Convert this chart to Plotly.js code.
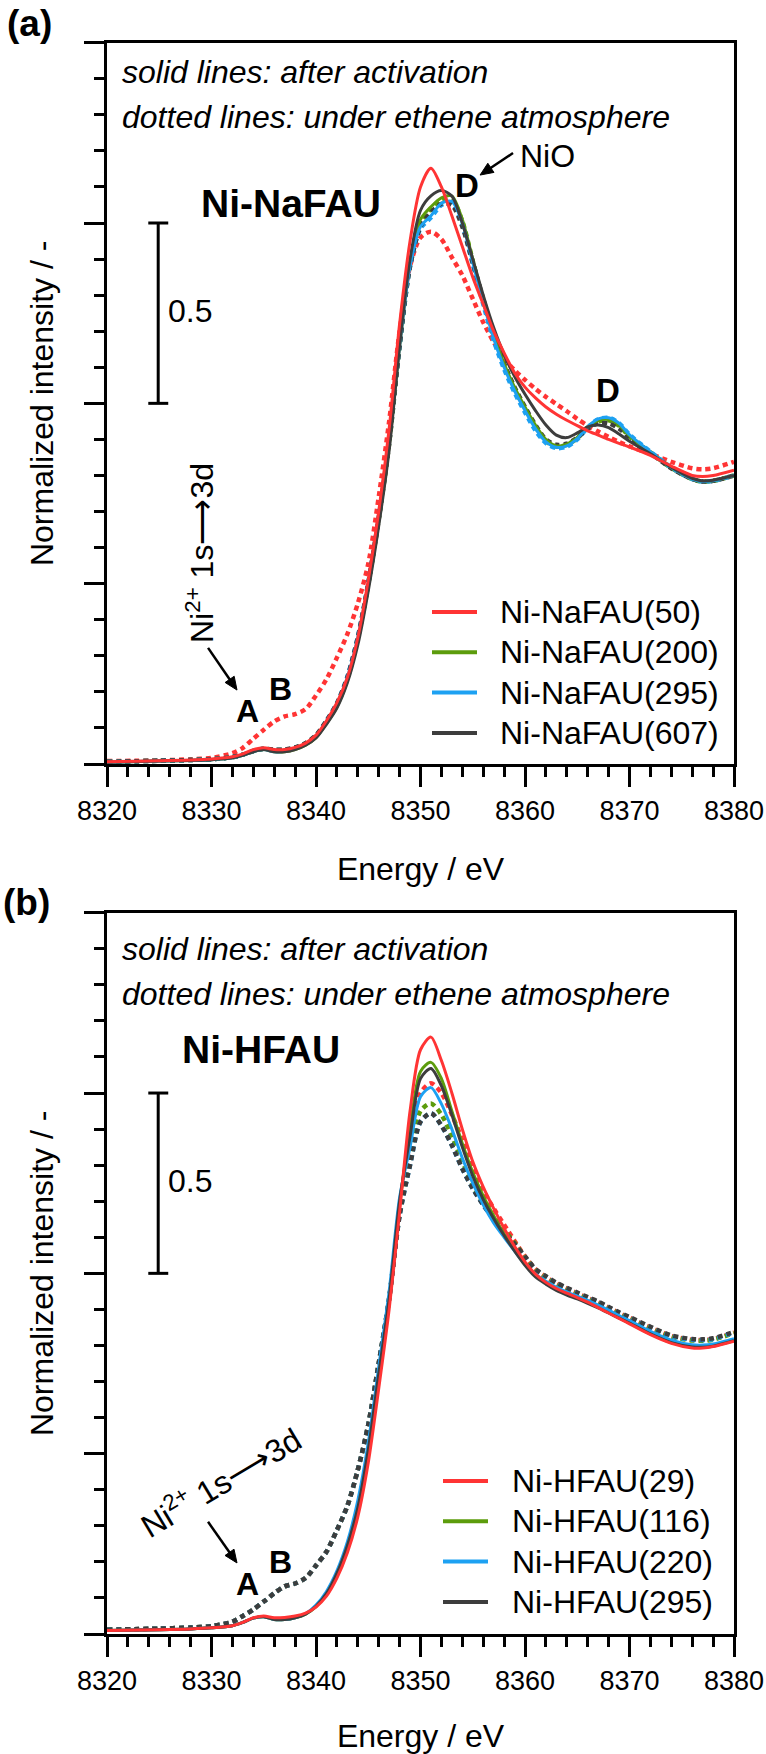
<!DOCTYPE html>
<html>
<head>
<meta charset="utf-8">
<script src="https://cdn.plot.ly/plotly-3.0.1.min.js"></script>
<style>
  html, body { margin: 0; padding: 0; background: #ffffff; }
  #chart { width: 766px; height: 1754px; }
</style>
</head>
<body>
<div id="chart"></div>
<script>
// Ni K-edge XANES spectra, normalized intensity vs photon energy.
const energy = [8320, 8325, 8328, 8330, 8332, 8333, 8334, 8335, 8336, 8337, 8338, 8339, 8340,
  8341, 8342, 8343, 8344, 8345, 8346, 8347, 8348, 8349, 8350, 8351, 8352, 8353, 8354, 8355,
  8356, 8357, 8358, 8359, 8360, 8361, 8362, 8363, 8364, 8365, 8366, 8367, 8368, 8369, 8370,
  8372, 8374, 8376, 8377, 8378, 8380];

// (a) Ni-NaFAU samples
const naNames = ['Ni-NaFAU(50)', 'Ni-NaFAU(200)', 'Ni-NaFAU(295)', 'Ni-NaFAU(607)'];
const na50Act = [0.006, 0.009, 0.011, 0.014, 0.020, 0.028, 0.040, 0.045, 0.040, 0.040, 0.046, 0.058, 0.080,
  0.120, 0.170, 0.240, 0.350, 0.510, 0.700, 0.930, 1.220, 1.450, 1.600, 1.652, 1.600, 1.520, 1.435, 1.350,
  1.275, 1.200, 1.140, 1.085, 1.045, 1.015, 0.990, 0.970, 0.953, 0.938, 0.924, 0.912, 0.900, 0.889, 0.879,
  0.856, 0.826, 0.800, 0.797, 0.800, 0.815];
const na50Eth = [0.008, 0.010, 0.013, 0.017, 0.030, 0.045, 0.070, 0.095, 0.118, 0.132, 0.138, 0.152, 0.190,
  0.235, 0.295, 0.360, 0.445, 0.555, 0.740, 0.950, 1.200, 1.380, 1.460, 1.476, 1.455, 1.405, 1.355, 1.290,
  1.225, 1.170, 1.125, 1.092, 1.065, 1.040, 1.018, 0.998, 0.978, 0.957, 0.938, 0.922, 0.907, 0.893, 0.881,
  0.860, 0.838, 0.820, 0.817, 0.820, 0.838];
const na200Act = [0.005, 0.008, 0.010, 0.012, 0.017, 0.024, 0.034, 0.040, 0.034, 0.034, 0.040, 0.052, 0.073,
  0.112, 0.158, 0.230, 0.340, 0.490, 0.670, 0.880, 1.160, 1.390, 1.510, 1.545, 1.570, 1.575, 1.510, 1.400,
  1.290, 1.190, 1.110, 1.045, 0.990, 0.940, 0.900, 0.882, 0.887, 0.905, 0.935, 0.952, 0.955, 0.940, 0.910,
  0.865, 0.822, 0.790, 0.783, 0.785, 0.800];
const na200Eth = [0.006, 0.009, 0.011, 0.013, 0.019, 0.026, 0.036, 0.042, 0.039, 0.039, 0.045, 0.057, 0.078,
  0.118, 0.165, 0.238, 0.348, 0.498, 0.678, 0.888, 1.160, 1.385, 1.500, 1.540, 1.562, 1.565, 1.505, 1.395,
  1.285, 1.185, 1.105, 1.040, 0.985, 0.935, 0.895, 0.880, 0.885, 0.903, 0.933, 0.950, 0.953, 0.938, 0.908,
  0.864, 0.821, 0.790, 0.783, 0.785, 0.800];
const na295Act = [0.005, 0.008, 0.010, 0.012, 0.017, 0.024, 0.034, 0.040, 0.034, 0.035, 0.042, 0.055, 0.076,
  0.118, 0.165, 0.240, 0.350, 0.500, 0.680, 0.890, 1.160, 1.380, 1.490, 1.520, 1.555, 1.560, 1.500, 1.390,
  1.280, 1.180, 1.100, 1.035, 0.980, 0.930, 0.893, 0.878, 0.882, 0.902, 0.935, 0.957, 0.960, 0.945, 0.913,
  0.866, 0.822, 0.790, 0.783, 0.785, 0.800];
const na295Eth = [0.006, 0.009, 0.011, 0.013, 0.019, 0.026, 0.036, 0.042, 0.039, 0.039, 0.045, 0.057, 0.078,
  0.120, 0.168, 0.242, 0.352, 0.502, 0.682, 0.892, 1.160, 1.380, 1.485, 1.515, 1.550, 1.555, 1.495, 1.385,
  1.275, 1.175, 1.095, 1.030, 0.975, 0.925, 0.890, 0.876, 0.880, 0.900, 0.933, 0.956, 0.960, 0.945, 0.913,
  0.866, 0.822, 0.790, 0.783, 0.785, 0.800];
const na607Act = [0.005, 0.008, 0.010, 0.012, 0.017, 0.024, 0.034, 0.040, 0.034, 0.034, 0.040, 0.052, 0.072,
  0.110, 0.155, 0.225, 0.330, 0.480, 0.660, 0.870, 1.160, 1.400, 1.535, 1.575, 1.590, 1.575, 1.500, 1.400,
  1.300, 1.210, 1.135, 1.075, 1.025, 0.980, 0.940, 0.912, 0.905, 0.918, 0.935, 0.940, 0.933, 0.915, 0.895,
  0.860, 0.823, 0.792, 0.785, 0.787, 0.800];
const na607Eth = [0.006, 0.009, 0.011, 0.013, 0.019, 0.026, 0.036, 0.042, 0.040, 0.040, 0.046, 0.058, 0.080,
  0.120, 0.168, 0.240, 0.350, 0.500, 0.680, 0.890, 1.160, 1.380, 1.490, 1.530, 1.553, 1.550, 1.490, 1.390,
  1.290, 1.190, 1.110, 1.045, 0.990, 0.940, 0.900, 0.885, 0.888, 0.905, 0.930, 0.945, 0.945, 0.930, 0.905,
  0.862, 0.820, 0.790, 0.783, 0.785, 0.800];

// (b) Ni-HFAU samples
const hNames = ['Ni-HFAU(29)', 'Ni-HFAU(116)', 'Ni-HFAU(220)', 'Ni-HFAU(295)'];
const h29Act = [0.010, 0.012, 0.014, 0.017, 0.023, 0.032, 0.045, 0.050, 0.045, 0.046, 0.050, 0.058, 0.075,
  0.105, 0.155, 0.225, 0.325, 0.475, 0.680, 0.900, 1.170, 1.450, 1.620, 1.655, 1.590, 1.500, 1.400, 1.310,
  1.240, 1.180, 1.125, 1.075, 1.032, 0.998, 0.975, 0.958, 0.945, 0.933, 0.920, 0.905, 0.890, 0.875, 0.860,
  0.830, 0.806, 0.793, 0.793, 0.797, 0.812];
const h29Eth = [0.012, 0.015, 0.018, 0.022, 0.034, 0.050, 0.068, 0.090, 0.113, 0.132, 0.140, 0.155, 0.190,
  0.228, 0.288, 0.355, 0.455, 0.580, 0.750, 0.930, 1.170, 1.360, 1.500, 1.527, 1.500, 1.440, 1.370, 1.290,
  1.230, 1.180, 1.135, 1.090, 1.047, 1.012, 0.990, 0.972, 0.958, 0.945, 0.932, 0.920, 0.905, 0.890, 0.877,
  0.850, 0.826, 0.816, 0.815, 0.818, 0.836];
const h116Act = [0.010, 0.012, 0.014, 0.017, 0.023, 0.032, 0.044, 0.048, 0.040, 0.040, 0.045, 0.055, 0.076,
  0.110, 0.165, 0.240, 0.345, 0.500, 0.710, 0.920, 1.190, 1.400, 1.560, 1.585, 1.540, 1.450, 1.360, 1.280,
  1.215, 1.160, 1.110, 1.067, 1.028, 0.996, 0.975, 0.958, 0.945, 0.934, 0.922, 0.909, 0.894, 0.879, 0.865,
  0.835, 0.811, 0.798, 0.797, 0.800, 0.815];
const h116Eth = [0.012, 0.015, 0.018, 0.022, 0.034, 0.050, 0.068, 0.090, 0.113, 0.132, 0.140, 0.155, 0.190,
  0.228, 0.288, 0.355, 0.455, 0.580, 0.750, 0.930, 1.165, 1.320, 1.450, 1.471, 1.440, 1.380, 1.310, 1.245,
  1.195, 1.155, 1.120, 1.085, 1.045, 1.010, 0.988, 0.970, 0.956, 0.943, 0.930, 0.918, 0.903, 0.888, 0.875,
  0.848, 0.824, 0.814, 0.813, 0.816, 0.834];
const h220Act = [0.010, 0.012, 0.014, 0.017, 0.023, 0.032, 0.044, 0.048, 0.040, 0.040, 0.045, 0.056, 0.080,
  0.118, 0.175, 0.255, 0.370, 0.530, 0.740, 0.950, 1.210, 1.350, 1.490, 1.515, 1.470, 1.400, 1.320, 1.250,
  1.190, 1.140, 1.100, 1.062, 1.026, 0.998, 0.978, 0.961, 0.948, 0.937, 0.925, 0.912, 0.898, 0.883, 0.869,
  0.839, 0.815, 0.802, 0.801, 0.804, 0.819];
const h220Eth = [0.012, 0.015, 0.018, 0.022, 0.034, 0.050, 0.068, 0.090, 0.113, 0.132, 0.140, 0.155, 0.190,
  0.228, 0.288, 0.355, 0.455, 0.580, 0.750, 0.930, 1.160, 1.300, 1.420, 1.444, 1.410, 1.355, 1.290, 1.235,
  1.190, 1.150, 1.115, 1.080, 1.045, 1.010, 0.990, 0.972, 0.958, 0.945, 0.932, 0.920, 0.905, 0.890, 0.877,
  0.850, 0.826, 0.816, 0.815, 0.818, 0.836];
const h295Act = [0.010, 0.012, 0.014, 0.017, 0.023, 0.032, 0.044, 0.048, 0.040, 0.040, 0.045, 0.055, 0.077,
  0.112, 0.168, 0.245, 0.350, 0.510, 0.720, 0.930, 1.200, 1.380, 1.540, 1.568, 1.520, 1.440, 1.350, 1.270,
  1.205, 1.152, 1.105, 1.062, 1.022, 0.990, 0.970, 0.953, 0.940, 0.929, 0.917, 0.904, 0.890, 0.876, 0.862,
  0.832, 0.808, 0.796, 0.795, 0.798, 0.813];
const h295Eth = [0.012, 0.015, 0.018, 0.022, 0.034, 0.050, 0.068, 0.090, 0.113, 0.132, 0.140, 0.155, 0.190,
  0.228, 0.288, 0.355, 0.455, 0.580, 0.750, 0.930, 1.160, 1.300, 1.420, 1.444, 1.410, 1.355, 1.290, 1.235,
  1.190, 1.150, 1.115, 1.082, 1.047, 1.012, 0.992, 0.974, 0.960, 0.947, 0.934, 0.922, 0.907, 0.892, 0.879,
  0.852, 0.828, 0.818, 0.817, 0.820, 0.838];

const seriesColors = ['#ff3434', '#5c9c0c', '#1da1f2', '#3d3d3d'];

const FONT = 'Liberation Sans, Arial, Helvetica, sans-serif';
const SOLID_W = 3;
const DOT_W = 4.5;
const DOT_DASH = '5px,4px';

function spectrum(y, i, names, xa, ya, eth) {
  return {
    type: 'scatter', mode: 'lines', x: energy, y: y,
    xaxis: xa, yaxis: ya,
    name: names[i] + (eth ? ' ethene' : ''),
    showlegend: false,
    hoverinfo: 'skip',
    line: {
      color: seriesColors[i],
      width: eth ? DOT_W : SOLID_W,
      dash: eth ? DOT_DASH : 'solid',
      shape: 'spline', smoothing: 0.8
    }
  };
}

const naEth = [na50Eth, na200Eth, na295Eth, na607Eth];
const naAct = [na50Act, na200Act, na295Act, na607Act];
const hEth = [h29Eth, h116Eth, h220Eth, h295Eth];
const hAct = [h29Act, h116Act, h220Act, h295Act];

const traces = [];
[0, 1, 2, 3].forEach(i => traces.push(spectrum(naEth[i], i, naNames, 'x', 'y', true)));
[1, 2, 3, 0].forEach(i => traces.push(spectrum(naAct[i], i, naNames, 'x', 'y', false)));
[0, 1, 2, 3].forEach(i => traces.push(spectrum(hEth[i], i, hNames, 'x2', 'y2', true)));
[1, 2, 3, 0].forEach(i => traces.push(spectrum(hAct[i], i, hNames, 'x2', 'y2', false)));

const H = 1754, W = 766;
const px = v => v / W;          // horizontal pixel -> paper
const py = v => 1 - v / H;      // vertical pixel -> paper

// plot-area geometry in pixels
const PLOT_L = 107, PLOT_R = 734;
const A_TOP = 42.7, A_BOT = 764, B_TOP = 912.7, B_BOT = 1634;
const X_RANGE = [8320, 8380], Y_RANGE = [0, 2];
const KX = (PLOT_R - PLOT_L) / (X_RANGE[1] - X_RANGE[0]);   // px per eV
const KY = (A_BOT - A_TOP) / (Y_RANGE[1] - Y_RANGE[0]);     // px per intensity unit

function xAxis(anchor) {
  return {
    domain: [px(PLOT_L), px(PLOT_R)], anchor: anchor, range: X_RANGE, tick0: 8320, dtick: 10,
    showline: true, linewidth: 3, linecolor: '#000', mirror: true,
    ticks: 'outside', ticklen: 20, tickwidth: 3, tickcolor: '#000',
    ticklabelstandoff: 1,
    minor: { dtick: 2, ticks: 'outside', ticklen: 10, tickwidth: 3, tickcolor: '#000', showgrid: false },
    showgrid: false, zeroline: false,
    tickfont: { family: FONT, size: 27, color: '#000' },
    title: { text: 'Energy / eV', font: { family: FONT, size: 32, color: '#000' }, standoff: 33 }
  };
}
function yAxis(domain, anchor) {
  return {
    domain: domain, anchor: anchor, range: Y_RANGE, tick0: 0, dtick: 0.5,
    showline: true, linewidth: 3, linecolor: '#000', mirror: true,
    ticks: 'outside', ticklen: 20, tickwidth: 3, tickcolor: '#000',
    showticklabels: false,
    minor: { dtick: 0.1, ticks: 'outside', ticklen: 10, tickwidth: 3, tickcolor: '#000', showgrid: false },
    showgrid: false, zeroline: false,
    title: { text: 'Normalized intensity / -', font: { family: FONT, size: 32, color: '#000' }, standoff: 21 }
  };
}

function txt(text, x, y, xr, yr, size, extra) {
  return Object.assign({
    text: text, x: x, y: y, xref: xr, yref: yr, showarrow: false,
    xanchor: 'center', yanchor: 'middle',
    font: { family: FONT, size: size, color: '#000' }
  }, extra || {});
}

// arrow = line + filled head, drawn in data coordinates
function arrowShapes(x0, y0, x1, y1, xr, yr) {
  const dx = (x1 - x0) * KX, dy = (y1 - y0) * KY;
  const len = Math.hypot(dx, dy), ux = dx / len, uy = dy / len;
  const L = 13, Wd = 5.5;
  const bx = -ux * L, by = -uy * L;
  const p1 = [bx - uy * Wd, by + ux * Wd], p2 = [bx + uy * Wd, by - ux * Wd];
  const toX = v => x1 + v / KX, toY = v => y1 + v / KY;
  return [
    { type: 'line', xref: xr, yref: yr, x0: x0, y0: y0, x1: toX(bx * 0.8), y1: toY(by * 0.8),
      line: { color: '#000', width: 2.5 } },
    { type: 'path', xref: xr, yref: yr, fillcolor: '#000', line: { color: '#000', width: 1 },
      path: `M${x1},${y1} L${toX(p1[0])},${toY(p1[1])} L${toX(p2[0])},${toY(p2[1])} Z` }
  ];
}

// 0.5 scale bar
function scaleBar(xr, yr) {
  const s = { type: 'line', xref: xr, yref: yr, line: { color: '#000', width: 3 } };
  return [
    Object.assign({ x0: 8324.9, x1: 8324.9, y0: 1.0, y1: 1.5 }, s),
    Object.assign({ x0: 8323.95, x1: 8325.86, y0: 1.0, y1: 1.0 }, s),
    Object.assign({ x0: 8323.95, x1: 8325.86, y0: 1.5, y1: 1.5 }, s)
  ];
}

// key: sample line + label per sample, rows 40 px apart
function legendItems(names, lineX0, textX, firstRowPx) {
  const shapes = [], notes = [];
  names.forEach((n, i) => {
    const yy = py(firstRowPx + i * 40.3);
    shapes.push({ type: 'line', xref: 'paper', yref: 'paper', x0: px(lineX0), x1: px(lineX0 + 45),
      y0: yy, y1: yy, line: { color: seriesColors[i], width: 4 } });
    notes.push(txt(n, px(textX), yy, 'paper', 'paper', 32, { xanchor: 'left' }));
  });
  return { shapes, notes };
}

const legA = legendItems(naNames, 432, 498, 612);
const legB = legendItems(hNames, 443, 510, 1481);

const ROT_TEXT = 'Ni<sup>2+</sup> 1s⟶3d';

const annotations = [
  txt('<b>(a)</b>', px(29), py(1), 'paper', 'paper', 37, { yanchor: 'top' }),
  txt('<b>(b)</b>', px(26), py(902), 'paper', 'paper', 37),
  // panel (a)
  txt('<i>solid lines: after activation</i>', px(120), py(72), 'paper', 'paper', 32, { xanchor: 'left' }),
  txt('<i>dotted lines: under ethene atmosphere</i>', px(120), py(117), 'paper', 'paper', 32, { xanchor: 'left' }),
  txt('0.5', 8327.94, 1.256, 'x', 'y', 32),
  txt(ROT_TEXT, 8328.9, 0.585, 'x', 'y', 32, { textangle: -90 }),
  txt('<b>Ni-NaFAU</b>', 8337.6, 1.554, 'x', 'y', 39),
  txt('<b>A</b>', 8333.4, 0.147, 'x', 'y', 32),
  txt('<b>B</b>', 8336.65, 0.208, 'x', 'y', 32),
  txt('<b>D</b>', 8354.45, 1.604, 'x', 'y', 33),
  txt('<b>D</b>', 8367.9, 1.035, 'x', 'y', 33),
  txt('NiO', 8362.2, 1.686, 'x', 'y', 32),
  // panel (b)
  txt('<i>solid lines: after activation</i>', px(120), py(949), 'paper', 'paper', 32, { xanchor: 'left' }),
  txt('<i>dotted lines: under ethene atmosphere</i>', px(120), py(994), 'paper', 'paper', 32, { xanchor: 'left' }),
  txt('0.5', 8327.94, 1.256, 'x2', 'y2', 32),
  txt(ROT_TEXT, 8330.8, 0.424, 'x2', 'y2', 32, { textangle: -31 }),
  txt('<b>Ni-HFAU</b>', 8334.7, 1.621, 'x2', 'y2', 39),
  txt('<b>A</b>', 8333.4, 0.139, 'x2', 'y2', 32),
  txt('<b>B</b>', 8336.65, 0.200, 'x2', 'y2', 32),
  ...legA.notes, ...legB.notes
];

const shapes = [
  ...scaleBar('x', 'y'), ...scaleBar('x2', 'y2'),
  ...arrowShapes(8358.85, 1.694, 8355.7, 1.633, 'x', 'y'),
  ...arrowShapes(8329.67, 0.322, 8332.44, 0.205, 'x', 'y'),
  ...arrowShapes(8329.67, 0.311, 8332.44, 0.197, 'x2', 'y2'),
  ...legA.shapes, ...legB.shapes
];

const layout = {
  width: W, height: H,
  margin: { l: 0, r: 0, t: 0, b: 0 },
  paper_bgcolor: '#fff', plot_bgcolor: '#fff',
  font: { family: FONT, color: '#000' },
  showlegend: false,
  xaxis: xAxis('y'),
  yaxis: yAxis([py(A_BOT), py(A_TOP)], 'x'),
  xaxis2: xAxis('y2'),
  yaxis2: yAxis([py(B_BOT), py(B_TOP)], 'x2'),
  annotations: annotations,
  shapes: shapes
};

Plotly.newPlot('chart', traces, layout, { displayModeBar: false, staticPlot: true });
</script>
</body>
</html>
